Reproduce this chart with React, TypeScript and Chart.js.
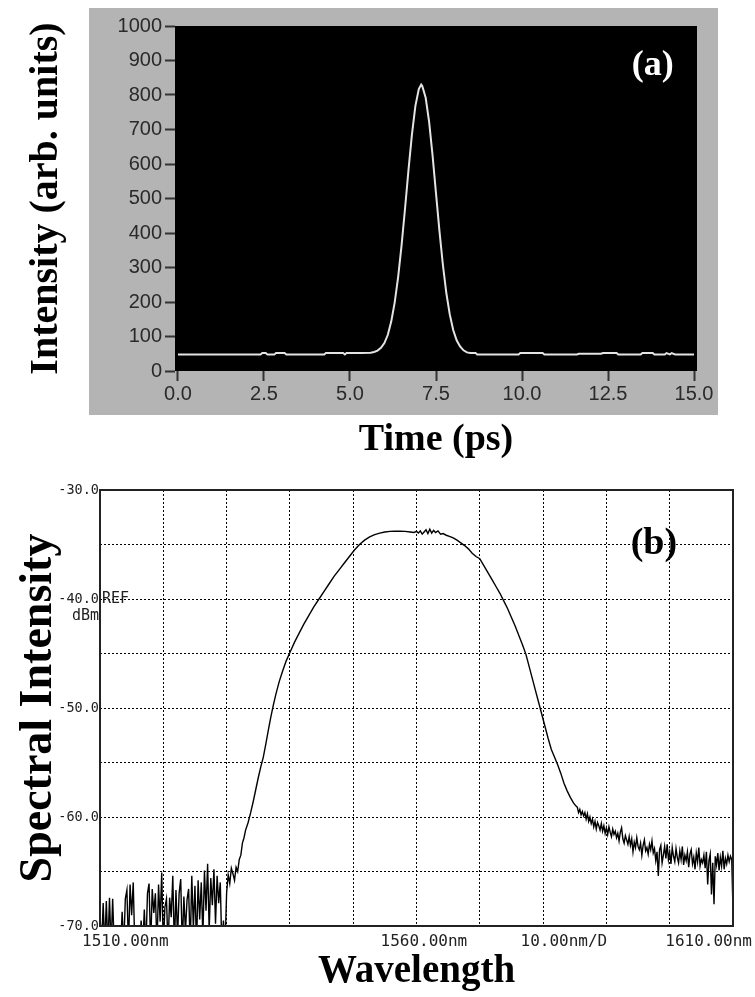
import React, { useEffect, useRef } from 'react';
import { Chart, registerables } from 'chart.js';

Chart.register(...registerables);

// ---------- Panel (a): pulse intensity vs time ----------
const timeTicks = [0, 2.5, 5, 7.5, 10, 12.5, 15];
const intensityTicks = [0, 100, 200, 300, 400, 500, 600, 700, 800, 900, 1000];

const pulseTime = [
  0, 0.5, 1.0, 1.5, 2.0, 2.4, 2.45, 2.55, 2.6, 2.8,
  2.85, 3.1, 3.15, 3.6, 4.25, 4.3, 4.8, 4.85, 4.9, 5.3,
  5.6, 5.7, 5.8, 5.9, 6.0, 6.1, 6.2, 6.3, 6.4, 6.5,
  6.6, 6.7, 6.8, 6.9, 7.0, 7.07, 7.1, 7.2, 7.3, 7.4,
  7.5, 7.6, 7.7, 7.8, 7.9, 8.0, 8.1, 8.2, 8.3, 8.4,
  8.5, 8.65, 8.7, 9.3, 9.9, 9.95, 10.6, 10.65, 11.1, 11.6,
  11.65, 12.3, 12.35, 12.75, 12.8, 13.1, 13.45, 13.5, 13.8, 13.85,
  14.15, 14.2, 14.3, 14.35, 14.45, 14.5, 15.0,
];
const pulseIntensity = [
  48, 48, 48, 48, 48, 48, 52, 52, 48, 48,
  52, 52, 48, 48, 48, 52, 52, 48, 52, 52,
  53, 55, 59, 67, 81, 105, 144, 199, 273, 365,
  471, 582, 685, 768, 817, 830, 826, 792, 722, 625,
  515, 406, 308, 226, 164, 119, 89, 71, 60, 54,
  52, 52, 48, 48, 48, 52, 52, 48, 48, 48,
  50, 50, 52, 52, 48, 48, 48, 52, 52, 48,
  48, 52, 48, 52, 48, 48, 48,
];

// ---------- Panel (b): optical spectrum ----------
const wavelengthTicks = [1510, 1520, 1530, 1540, 1550, 1560, 1570, 1580, 1590, 1600, 1610];
const dbmTicks = [-70, -65, -60, -55, -50, -45, -40, -35, -30];
const wavelengthLabels = ['1510.00nm', '1560.00nm', '10.00nm/D', '1610.00nm'];

const leftNoiseWl = [
  1510.0, 1510.25, 1510.5, 1510.75, 1511.0, 1511.25, 1511.5, 1511.75, 1512.0, 1512.25,
  1512.5, 1512.75, 1513.0, 1513.25, 1513.5, 1513.75, 1514.0, 1514.25, 1514.5, 1514.75,
  1515.0, 1515.25, 1515.5, 1515.75, 1516.0, 1516.25, 1516.5, 1516.75, 1517.0, 1517.25,
  1517.5, 1517.75, 1518.0, 1518.25, 1518.5, 1518.75, 1519.0, 1519.25, 1519.5, 1519.75,
  1520.0, 1520.25, 1520.5, 1520.75, 1521.0, 1521.25, 1521.5, 1521.75, 1522.0, 1522.25,
  1522.5, 1522.75, 1523.0, 1523.25, 1523.5, 1523.75, 1524.0, 1524.25, 1524.5, 1524.75,
  1525.0, 1525.25, 1525.5, 1525.75, 1526.0, 1526.25, 1526.5, 1526.75, 1527.0, 1527.25,
  1527.5, 1527.75, 1528.0, 1528.25, 1528.5, 1528.75, 1529.0, 1529.25, 1529.5, 1529.75,
  1530.0, 1530.25, 1530.5, 1530.75, 1531.0,
];
const leftNoiseDbm = [
  -69.0, -72, -67.9, -72, -67.7, -72, -67.4, -72, -67.5, -72,
  -72, -72, -72, -72, -68.7, -72, -67.5, -66.7, -72, -66.2,
  -69.0, -66.0, -72, -72, -72, -72, -69.5, -72, -68.5, -72,
  -67.0, -66.1, -72, -66.6, -68.8, -67.0, -72, -66.2, -69.6, -65.1,
  -72, -68.3, -67.5, -72, -67.4, -69.2, -65.4, -72, -66.7, -71,
  -67.0, -65.7, -72, -67.3, -70.5, -67.6, -66.6, -72, -65.4, -70.2,
  -66.3, -72, -65.8, -69.4, -66.0, -71, -64.9, -68.6, -64.3, -70.4,
  -65.6, -68.1, -64.8, -69.8, -65.4, -67.9, -66.0, -72, -69.5, -72,
  -67.0, -65.3, -66.1, -64.7, -65.2,
];

const bandWl = [
  1531.25, 1531.5, 1531.75, 1532.0, 1532.25, 1532.5, 1532.75, 1533.0, 1533.4, 1533.8,
  1534.2, 1534.6, 1535.0, 1535.4, 1535.8, 1536.2, 1536.6, 1537.0, 1537.4, 1537.8,
  1538.3, 1538.8, 1539.4, 1540.0, 1540.7, 1541.4, 1542.2, 1543.0, 1543.8, 1544.6,
  1545.4, 1546.2, 1547.0, 1547.8, 1548.6, 1549.4, 1550.2, 1551.0, 1551.8, 1552.6,
  1553.4, 1554.2, 1555.0, 1555.8, 1556.6, 1557.4, 1558.2, 1559.0, 1559.6, 1560.0,
  1560.3, 1560.6, 1560.9, 1561.2, 1561.5, 1561.8, 1562.1, 1562.4, 1562.7, 1563.0,
  1563.4, 1563.8, 1564.2, 1564.7, 1565.2, 1565.8, 1566.4, 1567.0, 1567.6, 1568.2,
  1568.8, 1569.4, 1570.0, 1570.4, 1570.8, 1571.4, 1572.0, 1572.6, 1573.2, 1573.8,
  1574.4, 1575.0, 1575.6, 1576.2, 1576.8, 1577.3, 1577.8, 1578.3, 1578.8, 1579.3,
  1579.8, 1580.3, 1580.8, 1581.3, 1581.8, 1582.3, 1582.8, 1583.3, 1583.8, 1584.3,
  1584.8, 1585.2,
];
const bandDbm = [
  -65.8, -64.6, -65.0, -63.9, -63.5, -62.4, -61.9, -61.2, -60.5, -59.6,
  -58.6, -57.5, -56.4, -55.4, -54.5, -53.3, -52.0, -50.8, -49.7, -48.7,
  -47.6, -46.7, -45.7, -44.9, -44.0, -43.2, -42.3, -41.5, -40.7, -40.0,
  -39.3, -38.6, -37.9, -37.3, -36.7, -36.1, -35.5, -35.0, -34.6, -34.3,
  -34.1, -33.95, -33.85, -33.8, -33.78, -33.78, -33.8, -33.85, -33.9, -33.8,
  -33.95, -33.75, -34.05, -33.85, -33.65, -34.0, -33.6, -33.95, -33.7, -33.9,
  -33.75, -34.05, -34.0, -34.15, -34.25, -34.4, -34.6, -34.85, -35.1, -35.4,
  -35.8, -36.1, -36.3, -36.7, -37.1, -37.7, -38.3, -38.9, -39.5, -40.2,
  -40.9, -41.7, -42.5, -43.4, -44.3, -45.1, -46.2, -47.3, -48.4, -49.5,
  -50.6, -51.7, -52.8, -53.8, -54.5, -55.2, -56.0, -56.9, -57.6, -58.2,
  -58.7, -59.0,
];

const tailWl = [
  1585.4, 1585.6, 1585.8, 1586.0, 1586.2, 1586.4, 1586.6, 1586.8, 1587.0, 1587.2,
  1587.4, 1587.6, 1587.8, 1588.0, 1588.2, 1588.4, 1588.6, 1588.8, 1589.0, 1589.2,
  1589.4, 1589.6, 1589.8, 1590.0, 1590.2, 1590.4, 1590.6, 1590.8, 1591.0, 1591.2,
  1591.4, 1591.6, 1591.8, 1592.0, 1592.2, 1592.4, 1592.6, 1592.8, 1593.0, 1593.2,
  1593.4, 1593.6, 1593.8, 1594.0, 1594.2, 1594.4, 1594.6, 1594.8, 1595.0, 1595.2,
  1595.4, 1595.6, 1595.8, 1596.0, 1596.2, 1596.4, 1596.6, 1596.8, 1597.0, 1597.2,
  1597.4, 1597.6, 1597.8, 1598.0, 1598.2, 1598.4, 1598.6, 1598.8, 1599.0, 1599.2,
  1599.4, 1599.6, 1599.8, 1600.0, 1600.2, 1600.4, 1600.6, 1600.8, 1601.0, 1601.2,
  1601.4, 1601.6, 1601.8, 1602.0, 1602.2, 1602.4, 1602.6, 1602.8, 1603.0, 1603.2,
  1603.4, 1603.6, 1603.8, 1604.0, 1604.2, 1604.4, 1604.6, 1604.8, 1605.0, 1605.2,
  1605.4, 1605.6, 1605.8, 1606.0, 1606.2, 1606.4, 1606.6, 1606.8, 1607.0, 1607.2,
  1607.4, 1607.6, 1607.8, 1608.0, 1608.2, 1608.4, 1608.6, 1608.8, 1609.0, 1609.2,
  1609.4, 1609.6, 1609.8, 1610.0,
];
const tailDbm = [
  -59.1, -59.6, -59.3, -59.8, -59.5, -59.9, -59.6, -60.2, -59.7, -60.4,
  -60.0, -60.6, -60.2, -60.9, -60.4, -61.1, -60.5, -60.8, -61.2, -60.6,
  -61.3, -60.8, -61.5, -61.0, -61.6, -60.9, -61.4, -61.8, -61.1, -61.6,
  -61.3, -61.9, -61.5, -62.2, -61.4, -61.0, -62.0, -62.4, -61.7, -62.1,
  -62.5, -61.8, -62.6, -62.0, -63.2, -62.3, -62.8, -61.9, -62.7, -63.0,
  -62.4, -63.5, -62.6, -62.1, -63.1, -62.8, -63.4, -62.5, -63.0, -62.2,
  -63.3, -62.9, -64.0, -63.2, -65.4, -63.0, -62.6, -64.2, -63.5, -62.7,
  -63.8, -62.5, -63.9, -63.2, -64.3, -62.8, -63.6, -64.1, -62.9, -63.7,
  -64.2, -63.1, -63.9, -62.7, -64.4, -63.5, -64.0, -63.2, -64.6, -63.4,
  -63.0, -64.3, -63.7, -64.8, -63.3, -64.1, -62.8, -64.5, -63.9, -64.2,
  -63.5, -64.7, -63.2, -66.2, -64.0, -63.4, -67.1, -64.2, -68.0, -63.6,
  -64.4, -63.3, -64.9, -63.7, -64.5, -63.1, -64.8, -63.8, -64.3, -63.5,
  -64.1, -63.6, -63.9, -68.6,
];

const serif = "'Liberation Serif', 'Times New Roman', serif";
const sans = "'Liberation Sans', Arial, sans-serif";
const mono = "'DejaVu Sans Mono', 'Liberation Mono', monospace";

const panelAPlugin = {
  id: 'panelA',
  beforeDraw(chart: any) {
    const { ctx, chartArea: a } = chart;
    ctx.save();
    ctx.fillStyle = '#b4b4b4';
    ctx.fillRect(a.left - 86, a.top - 18, a.right - a.left + 107, a.bottom - a.top + 62);
    ctx.fillStyle = '#000';
    ctx.fillRect(a.left, a.top, a.right - a.left, a.bottom - a.top);
    ctx.restore();
  },
  afterDatasetsDraw(chart: any) {
    const { ctx, scales } = chart;
    ctx.save();
    ctx.fillStyle = '#fff';
    ctx.font = `bold 36px ${serif}`;
    ctx.textAlign = 'center';
    ctx.textBaseline = 'middle';
    ctx.fillText('(a)', scales.x.getPixelForValue(13.8), scales.y.getPixelForValue(885));
    ctx.restore();
  },
};

const panelBPlugin = {
  id: 'panelB',
  afterDraw(chart: any) {
    const { ctx, chartArea: a, scales } = chart;
    const x = scales.x;
    const y = scales.y;
    ctx.save();
    ctx.strokeStyle = '#222';
    ctx.lineWidth = 2;
    ctx.strokeRect(a.left, a.top, a.right - a.left, a.bottom - a.top);

    ctx.fillStyle = '#222';
    ctx.font = `16px ${mono}`;
    ctx.textBaseline = 'middle';
    const ly = a.bottom + 16;
    ctx.textAlign = 'left';
    ctx.fillText(wavelengthLabels[0], x.getPixelForValue(1510) - 18, ly);
    ctx.fillText(wavelengthLabels[1], x.getPixelForValue(1560) - 36, ly);
    ctx.fillText(wavelengthLabels[2], x.getPixelForValue(1560) + 104, ly);
    ctx.textAlign = 'right';
    ctx.fillText(wavelengthLabels[3], x.getPixelForValue(1610) + 19, ly);

    ctx.font = `15px ${mono}`;
    ctx.textAlign = 'left';
    ctx.fillText('REF', a.left + 2, y.getPixelForValue(-40));
    ctx.textAlign = 'right';
    ctx.fillText('dBm', a.left - 1, y.getPixelForValue(-40) + 17);

    ctx.fillStyle = '#000';
    ctx.font = `bold 38px ${serif}`;
    ctx.textAlign = 'center';
    ctx.fillText('(b)', x.getPixelForValue(1597.5), y.getPixelForValue(-35));
    ctx.restore();
  },
};

export default function App() {
  const topRef = useRef<HTMLCanvasElement>(null);
  const botRef = useRef<HTMLCanvasElement>(null);

  useEffect(() => {
    const top = new Chart(topRef.current as HTMLCanvasElement, {
      type: 'line',
      data: {
        datasets: [
          {
            data: pulseTime.map((t, i) => ({ x: t, y: pulseIntensity[i] })),
            borderColor: '#e4e4e4',
            borderWidth: 2,
            pointRadius: 0,
            tension: 0,
          },
        ],
      },
      options: {
        animation: false,
        responsive: false,
        maintainAspectRatio: false,
        layout: { padding: { left: 0, top: 26, right: 58, bottom: 7 } },
        plugins: { legend: { display: false }, tooltip: { enabled: false } },
        scales: {
          x: {
            type: 'linear',
            min: -0.087,
            max: 15.087,
            afterBuildTicks: (s: any) => {
              s.ticks = timeTicks.map((v) => ({ value: v }));
            },
            afterFit: (s: any) => {
              s.height = 92;
            },
            grid: { drawOnChartArea: false, drawTicks: true, tickLength: 10, tickColor: '#333', tickWidth: 2 },
            border: { display: false },
            ticks: {
              font: { family: sans, size: 20 },
              color: '#2a2a2a',
              padding: 1,
              maxRotation: 0,
              autoSkip: false,
              callback: (v: any) => Number(v).toFixed(1),
            },
            title: {
              display: true,
              text: 'Time (ps)',
              color: '#000',
              font: { family: serif, size: 38, weight: 'bold' },
              padding: { top: 0, bottom: 0 },
            },
          },
          y: {
            min: 0,
            max: 1000,
            afterBuildTicks: (s: any) => {
              s.ticks = intensityTicks.map((v) => ({ value: v }));
            },
            afterFit: (s: any) => {
              s.width = 175;
            },
            grid: { drawOnChartArea: false, drawTicks: true, tickLength: 10, tickColor: '#333', tickWidth: 2 },
            border: { display: false },
            ticks: {
              font: { family: sans, size: 20 },
              color: '#2a2a2a',
              padding: 3,
              autoSkip: false,
              callback: (v: any) => String(v),
            },
            title: {
              display: true,
              text: 'Intensity (arb. units)',
              color: '#000',
              font: { family: serif, size: 40, weight: 'bold' },
              padding: { top: 23, bottom: 0 },
            },
          },
        },
      },
      plugins: [panelAPlugin],
    } as any);

    const spectrumWl = [...leftNoiseWl, ...bandWl, ...tailWl];
    const spectrumDbm = [...leftNoiseDbm, ...bandDbm, ...tailDbm];

    const bot = new Chart(botRef.current as HTMLCanvasElement, {
      type: 'line',
      data: {
        datasets: [
          {
            data: spectrumWl.map((w, i) => ({ x: w, y: spectrumDbm[i] })),
            borderColor: '#000',
            borderWidth: 1.4,
            pointRadius: 0,
            tension: 0,
          },
        ],
      },
      options: {
        animation: false,
        responsive: false,
        maintainAspectRatio: false,
        layout: { padding: { left: 0, top: 20, right: 22, bottom: 2 } },
        plugins: { legend: { display: false }, tooltip: { enabled: false } },
        scales: {
          x: {
            type: 'linear',
            min: 1510,
            max: 1610,
            afterBuildTicks: (s: any) => {
              s.ticks = wavelengthTicks.map((v) => ({ value: v }));
            },
            afterFit: (s: any) => {
              s.height = 69;
            },
            grid: { color: '#000', lineWidth: 1, drawTicks: false },
            border: { display: false, dash: [2, 2] },
            ticks: { display: false },
            title: {
              display: true,
              text: 'Wavelength',
              color: '#000',
              font: { family: serif, size: 39, weight: 'bold' },
              padding: { top: 0, bottom: 0 },
            },
          },
          y: {
            min: -70,
            max: -30,
            afterBuildTicks: (s: any) => {
              s.ticks = dbmTicks.map((v) => ({ value: v }));
            },
            afterFit: (s: any) => {
              s.width = 100;
            },
            grid: { color: '#000', lineWidth: 1, drawTicks: false },
            border: { display: false, dash: [2, 2] },
            ticks: {
              font: { family: mono, size: 13.5 },
              color: '#222',
              padding: 1,
              autoSkip: false,
              callback: (v: any) => (Number(v) % 10 === 0 ? Number(v).toFixed(1) : ''),
            },
            title: {
              display: true,
              text: 'Spectral Intensity',
              color: '#000',
              font: { family: serif, size: 46, weight: 'bold' },
              padding: { top: 12, bottom: 0 },
            },
          },
        },
      },
      plugins: [panelBPlugin],
    } as any);

    return () => {
      top.destroy();
      bot.destroy();
    };
  }, []);

  return (
    <div style={{ position: 'absolute', left: 0, top: 0, width: 755, height: 997, background: '#fff' }}>
      <canvas
        ref={topRef}
        width={755}
        height={470}
        style={{ position: 'absolute', left: 0, top: 0, width: 755, height: 470 }}
      />
      <canvas
        ref={botRef}
        width={755}
        height={527}
        style={{ position: 'absolute', left: 0, top: 470, width: 755, height: 527 }}
      />
    </div>
  );
}
